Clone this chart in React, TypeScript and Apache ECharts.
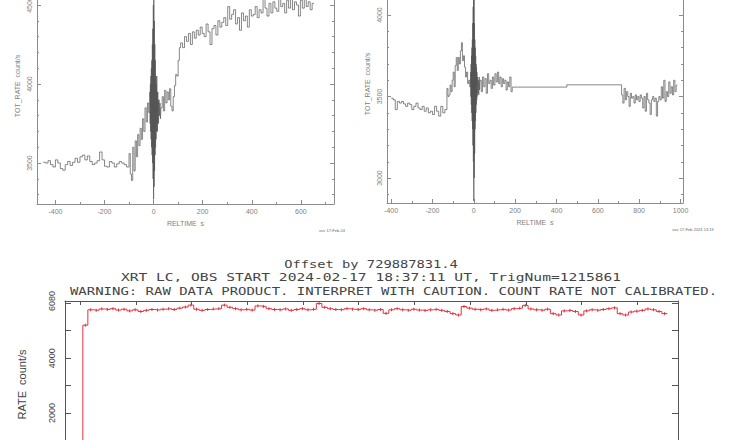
import React, { useEffect, useRef } from 'react';
import * as echarts from 'echarts';

// ---------- Panel 1 (top-left): bin left edge [s], TOT_RATE [count/s] ----------
const p1Bins: [number, number][] = [
  [-450, 3505], [-440, 3500], [-430, 3515], [-420, 3490], [-410, 3475], [-400, 3520], [-390, 3500],
  [-380, 3465], [-370, 3455], [-360, 3490], [-350, 3510], [-340, 3485], [-330, 3505], [-320, 3530],
  [-310, 3505], [-300, 3540], [-290, 3550], [-280, 3520], [-270, 3545], [-260, 3510], [-250, 3490],
  [-240, 3500], [-230, 3515], [-220, 3570], [-210, 3520], [-200, 3480], [-190, 3475], [-180, 3510],
  [-170, 3500], [-160, 3475], [-150, 3495], [-140, 3510], [-130, 3500], [-120, 3490], [-110, 3475],
  [-100, 3560], [-95, 3430], [-90, 3390], [-85, 3600], [-80, 3450], [-75, 3640], [-70, 3540],
  [-65, 3680], [-60, 3610], [-55, 3720], [-50, 3650], [-45, 3780], [-40, 3700], [-35, 3850],
  [-30, 3760], [-25, 3880], [-20, 3820],
  [-15, 3950], [-14, 3750], [-13, 4000], [-12, 3700], [-11, 4050], [-10, 3650], [-9, 4100],
  [-8, 3600], [-7, 4150], [-6, 3550], [-5, 4250], [-4, 3500], [-3, 4350], [-2, 3400], [-1, 4500],
  [0, 3270], [1, 4650], [2, 3350], [3, 4400], [4, 3450], [5, 4250], [6, 3550], [7, 4150], [8, 3600],
  [9, 4050], [10, 3650], [11, 4000], [12, 3700], [13, 4050], [14, 3750], [15, 3950], [16, 3700],
  [17, 3950], [18, 3800], [19, 3900], [20, 3750], [22, 3900], [24, 3800], [26, 3880], [28, 3780],
  [30, 3850], [35, 3920], [40, 3830], [45, 3960], [50, 3880], [55, 3950], [60, 3900], [65, 3970],
  [70, 3860], [75, 3830], [80, 3920], [85, 3990], [90, 4060], [95, 4050], [100, 4150], [105, 4230],
  [110, 4260], [118, 4230], [126, 4300], [134, 4270], [142, 4320], [150, 4250], [158, 4330],
  [166, 4290], [174, 4340], [182, 4310], [190, 4360], [198, 4320], [206, 4300], [214, 4380],
  [222, 4330], [230, 4250], [238, 4350], [246, 4370], [254, 4310], [262, 4400], [270, 4360],
  [278, 4390], [286, 4420], [294, 4370], [302, 4490], [310, 4410], [318, 4440], [326, 4470],
  [334, 4380], [342, 4420], [350, 4340], [358, 4450], [366, 4400], [374, 4430], [382, 4360],
  [390, 4470], [398, 4430], [406, 4440], [414, 4490], [422, 4420], [430, 4470], [438, 4450],
  [446, 4540], [454, 4480], [462, 4430], [470, 4510], [478, 4450], [486, 4520], [494, 4480],
  [502, 4460], [510, 4540], [518, 4490], [526, 4510], [534, 4450], [542, 4530], [550, 4480],
  [558, 4540], [566, 4470], [574, 4520], [582, 4500], [590, 4430], [598, 4530], [606, 4480],
  [614, 4540], [622, 4490], [630, 4520], [638, 4470], [646, 4510],
];
const p1End = 654;

// ---------- Panel 2 (top-right) ----------
const p2Bins: [number, number][] = [
  [-400, 3490], [-390, 3480], [-380, 3420], [-370, 3470], [-360, 3460], [-350, 3470], [-340, 3455],
  [-330, 3440], [-320, 3460], [-310, 3450], [-300, 3420], [-290, 3440], [-280, 3460], [-270, 3430],
  [-260, 3420], [-250, 3440], [-240, 3410], [-230, 3430], [-220, 3400], [-210, 3410], [-200, 3390],
  [-190, 3440], [-180, 3410], [-170, 3380], [-160, 3440], [-150, 3400], [-140, 3420], [-130, 3550],
  [-125, 3500], [-120, 3510], [-115, 3570], [-110, 3530], [-105, 3600], [-100, 3650], [-95, 3560],
  [-90, 3690], [-85, 3740], [-80, 3660], [-75, 3740], [-70, 3700], [-65, 3780], [-60, 3830],
  [-55, 3720], [-50, 3750], [-45, 3680], [-40, 3620], [-35, 3650], [-30, 3580], [-25, 3600], [-20, 3560],
  [-15, 3650], [-14, 3500], [-13, 3700], [-12, 3450], [-11, 3750], [-10, 3400], [-9, 3800], [-8, 3350],
  [-7, 3850], [-6, 3300], [-5, 3950], [-4, 3200], [-3, 4050], [-2, 3100], [-1, 4150], [0, 2860],
  [1, 4120], [2, 3000], [3, 3950], [4, 3150], [5, 3850], [6, 3300], [7, 3800], [8, 3350], [9, 3750],
  [10, 3400], [11, 3700], [12, 3450], [13, 3680], [14, 3480], [15, 3650], [16, 3500], [18, 3620],
  [20, 3520], [22, 3600], [24, 3510], [26, 3620], [28, 3540],
  [30, 3600], [36, 3530], [42, 3620], [48, 3560], [54, 3610], [60, 3520], [66, 3640], [72, 3580],
  [78, 3600], [84, 3550], [90, 3620], [96, 3570], [102, 3640], [108, 3590], [114, 3650], [120, 3580],
  [126, 3620], [132, 3560], [138, 3610], [144, 3580], [150, 3600], [156, 3540], [162, 3590],
  [168, 3560], [174, 3620], [180, 3530],
  [186, 3558], [450, 3572],
  [715, 3510], [721, 3460], [727, 3550], [733, 3480], [739, 3530], [745, 3500], [751, 3440],
  [757, 3520], [763, 3490], [769, 3500], [775, 3460], [781, 3510], [787, 3480], [793, 3500],
  [799, 3470], [805, 3510], [811, 3490], [817, 3430], [823, 3500], [829, 3410], [835, 3520],
  [841, 3480], [847, 3460], [853, 3390], [859, 3480], [865, 3500], [871, 3470], [877, 3490],
  [883, 3380], [889, 3470], [895, 3500], [901, 3480], [907, 3560], [913, 3490], [919, 3600],
  [925, 3470], [931, 3530], [937, 3500], [943, 3590], [949, 3520], [955, 3560], [961, 3510],
  [967, 3600], [973, 3530], [979, 3570],
];
const p2End = 985;

// ---------- Bottom panel: XRT light curve ----------
const lcRiseTime = 5;
const lcTime: number[] = [
  5, 14, 24, 34, 44, 54, 64, 74, 84, 94, 104, 114, 124, 134, 144, 154, 164, 174, 184, 194, 204,
  214, 224, 234, 244, 254, 264, 274, 284, 294, 304, 314, 324, 334, 344, 354, 364, 374, 384, 394,
  404, 414, 424, 434, 444, 454, 464, 474, 484, 494, 504, 514, 524, 534, 544, 554, 564, 574, 584,
  594, 604, 614, 624, 634, 644, 654, 664, 674, 684, 694, 704, 714, 724, 734, 744, 754, 764, 774,
  784, 794, 804, 814, 824, 834, 844, 854, 864, 874, 884, 894, 904, 914, 924, 934, 944, 954, 964,
  974, 984, 994, 1004, 1014, 1024, 1034, 1044,
];
const lcRate: number[] = [
  5200, 5760, 5740, 5790, 5770, 5800, 5750, 5780, 5720, 5760, 5700, 5740, 5770, 5750, 5780, 5800,
  5770, 5820, 5860, 5930, 5780, 5740, 5770, 5790, 5800, 5930, 5850, 5800, 5760, 5780, 5750, 5900,
  5880, 5800, 5770, 5760, 5790, 5740, 5770, 5800, 5760, 5780, 5990, 5850, 5800, 5770, 5760, 5800,
  5780, 5770, 5800, 5760, 5740, 5770, 5630, 5760, 5800, 5760, 5740, 5780, 5750, 5730, 5760, 5780,
  5740, 5700, 5620, 5570, 5880, 5820, 5780, 5760, 5790, 5740, 5760, 5780, 5750, 5800, 5820, 5920,
  5790, 5760, 5740, 5780, 5620, 5570, 5720, 5740, 5700, 5570, 5720, 5760, 5740, 5770, 5800, 5830,
  5620, 5570, 5680, 5710, 5740, 5790, 5760, 5700, 5620,
];
const lcEnd = 1054;
const lcErr = 55;

const FONT = 'Liberation Sans';
const GREY_AX = '#8c8c8c';
const GREY_TX = '#808080';
const RED = '#e4323f';
const fmt = (v: number) => String(Math.round(v));

function stepData(bins: [number, number][], end: number) {
  const d = bins.map((b) => [b[0], b[1]]);
  d.push([end, bins[bins.length - 1][1]]);
  return d;
}

function topX(grid: number, min: number, max: number, split: number) {
  return {
    gridIndex: grid, type: 'value', min, max, splitNumber: split, position: 'bottom',
    axisLine: { show: true, onZero: false, lineStyle: { color: GREY_AX, width: 1 } },
    axisTick: { show: true, inside: true, length: 4, lineStyle: { color: GREY_AX } },
    minorTick: { show: true, splitNumber: 2, length: 2, lineStyle: { color: GREY_AX } },
    splitLine: { show: false },
    axisLabel: { fontSize: 7, color: GREY_TX, margin: 4, showMinLabel: false, showMaxLabel: false, fontFamily: FONT, formatter: fmt },
    name: 'RELTIME  s', nameLocation: 'middle', nameGap: 13,
    nameTextStyle: { fontSize: 7, color: GREY_TX, fontFamily: FONT },
  };
}

function topY(grid: number, min: number, max: number, right: boolean) {
  return {
    gridIndex: grid, type: 'value', min, max, splitNumber: 3, position: right ? 'right' : 'left',
    axisLine: { show: true, onZero: false, lineStyle: { color: GREY_AX, width: 1 } },
    axisTick: { show: true, inside: true, length: 4, lineStyle: { color: GREY_AX } },
    minorTick: { show: true, splitNumber: 5, length: 2, lineStyle: { color: GREY_AX } },
    splitLine: { show: false },
    axisLabel: { show: !right, rotate: 90, fontSize: 7, color: GREY_TX, margin: 4, showMinLabel: false, showMaxLabel: false, fontFamily: FONT, formatter: fmt },
    name: right ? '' : 'TOT_RATE  count/s', nameLocation: 'middle', nameGap: 16, nameRotate: 90,
    nameTextStyle: { fontSize: 7, color: GREY_TX, fontFamily: FONT },
  };
}

function lcX(position: 'top' | 'bottom') {
  return {
    gridIndex: 2, type: 'value', min: -27, max: 1073, splitNumber: 11, position,
    axisLine: { show: true, onZero: false, lineStyle: { color: '#555', width: 1 } },
    axisTick: { show: true, inside: true, length: 4, lineStyle: { color: '#555' } },
    splitLine: { show: false },
    axisLabel: { show: false },
  };
}

function lcY(right: boolean) {
  return {
    gridIndex: 2, type: 'value', min: 0, max: 6080, interval: 2000, position: right ? 'right' : 'left',
    axisLine: { show: true, onZero: false, lineStyle: { color: '#555', width: 1 } },
    axisTick: { show: true, inside: true, length: 6, lineStyle: { color: '#555' } },
    minorTick: { show: true, splitNumber: 2, length: 6, lineStyle: { color: '#555' } },
    splitLine: { show: false },
    axisLabel: { show: !right, rotate: 90, fontSize: 9, color: '#444', margin: 9, showMinLabel: false, showMaxLabel: true, fontFamily: FONT, formatter: fmt },
    name: right ? '' : 'RATE  count/s', nameLocation: 'middle', nameGap: 38, nameRotate: 90,
    nameTextStyle: { fontSize: 11, color: '#444', fontFamily: FONT },
  };
}

export default function App() {
  const ref = useRef<HTMLDivElement>(null);
  useEffect(() => {
    if (!ref.current) return;
    const chart = echarts.init(ref.current, undefined, { renderer: 'svg' });
    const lcData: number[][] = [[lcRiseTime, 0]];
    lcTime.forEach((t, i) => lcData.push([t, lcRate[i]]));
    lcData.push([lcEnd, lcRate[lcRate.length - 1]]);
    const errData = lcTime.map((t, i) => {
      const next = i + 1 < lcTime.length ? lcTime[i + 1] : lcEnd;
      return [(t + next) / 2, lcRate[i]];
    });
    const mono = 'DejaVu Sans Mono';
    chart.setOption({
      animation: false,
      backgroundColor: '#ffffff',
      textStyle: { fontFamily: FONT },
      grid: [
        { left: 37, right: 418, top: -32, bottom: 236, outerBoundsMode: 'none', containLabel: false },
        { left: 387, right: 69, top: -35, bottom: 237, outerBoundsMode: 'none', containLabel: false },
        { left: 65, right: 74, top: 301, bottom: -28, outerBoundsMode: 'none', containLabel: false },
      ],
      xAxis: [
        topX(0, -475, 735, 6),
        topX(1, -420, 1012, 7),
        lcX('bottom'),
        lcX('top'),
      ],
      yAxis: [
        topY(0, 3241, 4734, false),
        topY(0, 3241, 4734, true),
        topY(1, 2847, 4307, false),
        topY(1, 2847, 4307, true),
        lcY(false),
        lcY(true),
      ],
      series: [
        {
          type: 'line', xAxisIndex: 0, yAxisIndex: 0, step: 'end', showSymbol: false, symbol: 'none',
          data: stepData(p1Bins, p1End), lineStyle: { color: '#555', width: 0.7 },
        },
        {
          type: 'line', xAxisIndex: 1, yAxisIndex: 2, step: 'end', showSymbol: false, symbol: 'none',
          data: stepData(p2Bins, p2End), lineStyle: { color: '#555', width: 0.7 },
        },
        {
          type: 'line', xAxisIndex: 2, yAxisIndex: 4, step: 'end', showSymbol: false, symbol: 'none',
          data: lcData, lineStyle: { color: RED, width: 1 },
        },
        {
          type: 'custom', xAxisIndex: 2, yAxisIndex: 4, data: errData,
          renderItem: (_p: any, api: any) => {
            const x = api.value(0);
            const y = api.value(1);
            const a = api.coord([x, y + lcErr]);
            const b = api.coord([x, y - lcErr]);
            return { type: 'line', shape: { x1: a[0], y1: a[1], x2: b[0], y2: b[1] }, style: { stroke: RED, lineWidth: 1 } };
          },
        },
      ],
      graphic: [
        { type: 'text', x: 332, y: 230, style: { text: 'uvv 17-Feb-24', fontSize: 4, fill: '#666', textAlign: 'center', textVerticalAlign: 'middle', fontFamily: FONT } },
        { type: 'text', x: 693, y: 229, style: { text: 'uvv 17-Feb-2024 13:19', fontSize: 4, fill: '#666', textAlign: 'center', textVerticalAlign: 'middle', fontFamily: FONT } },
        { type: 'text', x: 371, y: 264, scaleX: 1.25, style: { text: 'Offset by 729887831.4', fontSize: 11, fill: '#444', textAlign: 'center', textVerticalAlign: 'middle', fontFamily: mono } },
        { type: 'text', x: 371, y: 277.5, scaleX: 1.327, style: { text: 'XRT LC, OBS START 2024-02-17 18:37:11 UT, TrigNum=1215861', fontSize: 11, fill: '#444', textAlign: 'center', textVerticalAlign: 'middle', fontFamily: mono } },
        { type: 'text', x: 393.5, y: 291, scaleX: 1.27, style: { text: 'WARNING: RAW DATA PRODUCT. INTERPRET WITH CAUTION. COUNT RATE NOT CALIBRATED.', fontSize: 11, fill: '#444', textAlign: 'center', textVerticalAlign: 'middle', fontFamily: mono } },
      ],
    });
    return () => chart.dispose();
  }, []);
  return <div ref={ref} style={{ position: 'absolute', left: 0, top: 0, width: 752, height: 440, background: '#fff' }} />;
}
